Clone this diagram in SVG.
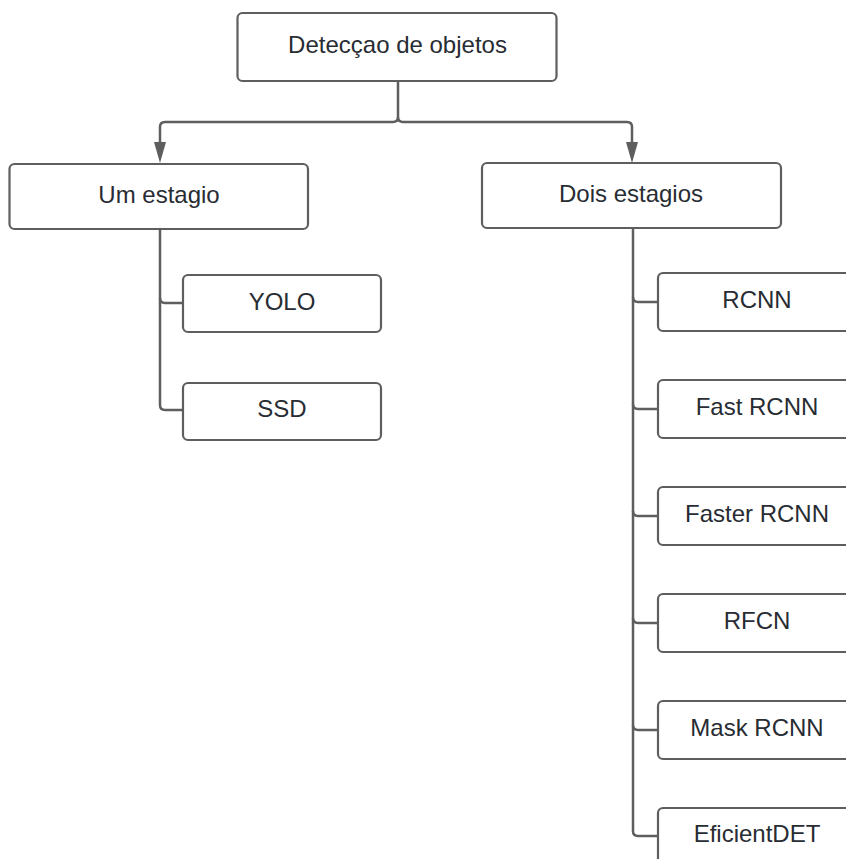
<svg xmlns="http://www.w3.org/2000/svg" width="846" height="859" viewBox="0 0 846 859">
<style>
.box{fill:#ffffff;stroke:#5e5e5e;stroke-width:2.2}
.lbl{font-family:"Liberation Sans",Arial,sans-serif;font-size:24px;fill:#282c33;text-anchor:middle;dominant-baseline:central}
.con{fill:none;stroke:#5e5e5e;stroke-width:2.5}
.head{fill:#5e5e5e}
</style>
<rect width="846" height="859" fill="#ffffff"/>
<g id="connectors">
<path class="con" d="M398 81 V117 Q398 122 393 122 H165 Q160 122 160 127 V142"/>
<path class="con" d="M398 117 Q398 122 403 122 H627 Q632 122 632 127 V142"/>
<path class="head" d="M154 142 H166 L160 163 Z"/>
<path class="head" d="M626 142 H638 L632 163 Z"/>
<path class="con" d="M160 229 V405 Q160 410 165 410 H183"/>
<path class="con" d="M160 298 Q160 303 165 303 H183"/>
<path class="con" d="M633 228 V831 Q633 836 638 836 H658"/>
<path class="con" d="M633 297 Q633 302 638 302 H658"/>
<path class="con" d="M633 404 Q633 409 638 409 H658"/>
<path class="con" d="M633 511 Q633 516 638 516 H658"/>
<path class="con" d="M633 618 Q633 623 638 623 H658"/>
<path class="con" d="M633 725 Q633 730 638 730 H658"/>
</g>
<g id="root"><rect class="box" x="237.5" y="13" width="319" height="68" rx="5"/><text class="lbl" x="397.5" y="44.5">Detecçao de objetos</text></g>
<g id="um"><rect class="box" x="9.5" y="164" width="298.5" height="65" rx="5"/><text class="lbl" x="159" y="194.5">Um estagio</text></g>
<g id="dois"><rect class="box" x="482" y="163" width="299" height="65" rx="5"/><text class="lbl" x="631" y="193.5">Dois estagios</text></g>
<g id="yolo"><rect class="box" x="183" y="275" width="198" height="57" rx="5"/><text class="lbl" x="282" y="301.5">YOLO</text></g>
<g id="ssd"><rect class="box" x="183" y="383" width="198" height="57" rx="5"/><text class="lbl" x="282" y="408.5">SSD</text></g>
<g id="rcnn"><rect class="box" x="658" y="273" width="198" height="58" rx="5"/><text class="lbl" x="757" y="299.5">RCNN</text></g>
<g id="fast"><rect class="box" x="658" y="380" width="198" height="58" rx="5"/><text class="lbl" x="757" y="406.5">Fast RCNN</text></g>
<g id="faster"><rect class="box" x="658" y="487" width="198" height="58" rx="5"/><text class="lbl" x="757" y="513.5">Faster RCNN</text></g>
<g id="rfcn"><rect class="box" x="658" y="594" width="198" height="58" rx="5"/><text class="lbl" x="757" y="620.5">RFCN</text></g>
<g id="mask"><rect class="box" x="658" y="701" width="198" height="58" rx="5"/><text class="lbl" x="757" y="727.5">Mask RCNN</text></g>
<g id="efi"><rect class="box" x="658" y="808" width="198" height="58" rx="5"/><text class="lbl" x="757" y="833.5">EficientDET</text></g>
</svg>
